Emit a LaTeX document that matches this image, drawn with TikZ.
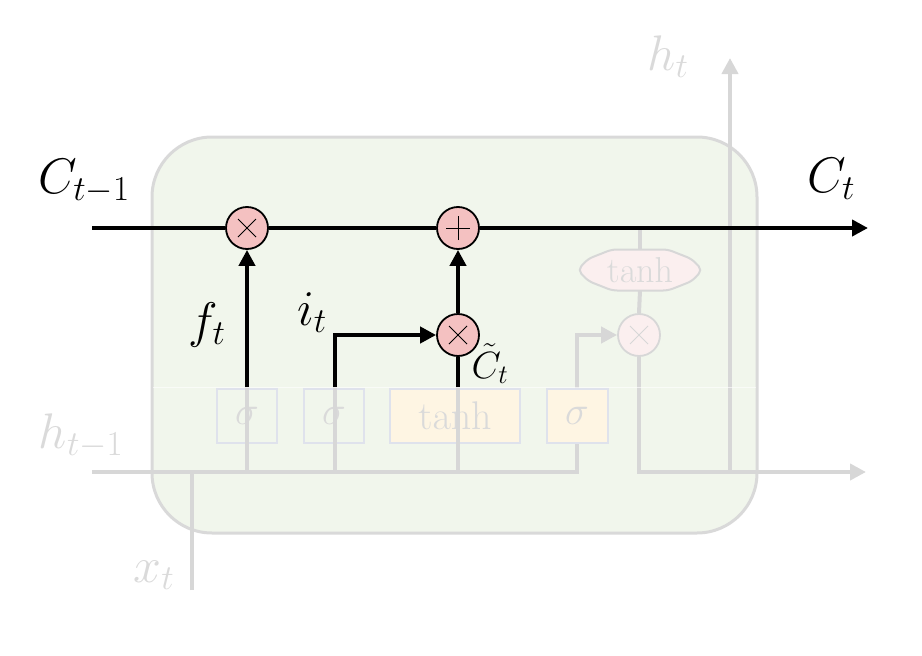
\RequirePackage{fix-cm}
\documentclass[tikz,border=0pt]{standalone}
\usetikzlibrary{arrows.meta,shapes.geometric}
\definecolor{cellfill}{HTML}{F1F6EC}
\definecolor{cellline}{HTML}{D9D9D9}
\definecolor{pinkc}{HTML}{F4C1C1}
\definecolor{fadepink}{HTML}{FBEFEF}
\definecolor{fadeline}{HTML}{D7D7D7}
\definecolor{fadetext}{HTML}{DADADA}
\definecolor{gateline}{HTML}{DFE2EC}
\definecolor{gatefill}{HTML}{FEF5E3}
\begin{document}
\begin{tikzpicture}[x=1pt,y=-1pt,
  cross/.style={path picture={
    \draw[line width=1pt,#1] ([shift={(-9pt,-9pt)}]path picture bounding box.center) -- ([shift={(9pt,9pt)}]path picture bounding box.center);
    \draw[line width=1pt,#1] ([shift={(-9pt,9pt)}]path picture bounding box.center) -- ([shift={(9pt,-9pt)}]path picture bounding box.center);}},
  plus/.style={path picture={
    \draw[line width=1pt] ([xshift=-12pt]path picture bounding box.center) -- ([xshift=12pt]path picture bounding box.center);
    \draw[line width=1pt] ([yshift=-12pt]path picture bounding box.center) -- ([yshift=12pt]path picture bounding box.center);}},
  opc/.style={circle, draw=black, fill=pinkc, minimum size=42pt, inner sep=0pt, line width=1.8pt},
  fadeopc/.style={circle, draw=fadeline, fill=fadepink, minimum size=42pt, inner sep=0pt, line width=1.8pt},
  bigtxt/.style={font=\fontsize{50}{60}\selectfont, inner sep=0pt, anchor=base},
  fadetxt/.style={bigtxt, text=fadetext},
  gateA/.style={draw=gateline, fill=cellfill, line width=2pt, minimum height=54pt, inner sep=0pt, text=fadetext, font=\fontsize{40}{48}\selectfont},
  gateB/.style={gateA, fill=gatefill},
  blk/.style={line width=4pt, black},
  gry/.style={line width=4pt, fadeline},
  tip/.style={-{Triangle[length=16pt,width=16pt]}},
]
\useasboundingbox (0,0) rectangle (922,656);

% cell
\node[draw=cellline, fill=cellfill, line width=3pt, rounded corners=60pt,
      minimum width=605pt, minimum height=396pt, inner sep=0pt] (cell) at (454.5,335) {};

% gates
\node[gateA, minimum width=60pt] (gf) at (247,416) {$\sigma$};
\node[gateA, minimum width=60pt] (gi) at (334,416) {$\sigma$};
\node[gateB, minimum width=130pt] (gc) at (455,416) {$\tanh$};
\node[gateB, minimum width=61pt] (go) at (577,416) {$\sigma$};

% faded output part
\node[minimum width=124pt, minimum height=41pt, inner sep=0pt] (th) at (640,270) {};
\draw[draw=fadeline, fill=fadepink, line width=2pt, rounded corners=5pt]
  (th.west) -- ++(10,-11) -- ++(24,-9.5) -- ++(56,0) -- ++(24,9.5) -- (th.east)
  -- ++(-10,11) -- ++(-24,9.5) -- ++(-56,0) -- ++(-24,-9.5) -- cycle;
\node[text=fadetext, font=\fontsize{36}{44}\selectfont, inner sep=0pt] (thl) at (th.center) {$\tanh$};
\node[fadeopc, cross=fadeline] (mo) at (639,335) {};

% coordinates
\coordinate (cin) at (92,228);
\coordinate (cout) at (868,228);
\coordinate (hin) at (92,472);
\coordinate (hend) at (866,472);
\coordinate (htop) at (730,58);
\coordinate (hjoin) at (730,472);
\coordinate (xbot) at (192,590);
\coordinate (xjoin) at (192,472);
\coordinate (fb) at (247,472);
\coordinate (fm) at (247,387);
\coordinate (ib) at (335,472);
\coordinate (im) at (335,387);
\coordinate (ic) at (335,335);
\coordinate (cb) at (458,472);
\coordinate (cm) at (458,387);
\coordinate (ob) at (577,472);
\coordinate (oc) at (577,335);
\coordinate (ctap) at (640,228);
\coordinate (mob) at (639,472);

% faded connectors
\draw[gry] (hin) -- (ob) -- (go.south);
\draw[gry] (xbot) -- (xjoin);
\draw[gry] (fb) -- (fm);
\draw[gry] (ib) -- (im);
\draw[gry] (cb) -- (cm);
\draw[gry, tip] (go.north) -- (oc) -- (mo.west);
\draw[gry] (ctap) -- (th.north);
\draw[gry] (th.south) -- (mo.north);
\draw[gry, tip] (mo.south) -- (mob) -- (hend);
\draw[gry, tip] (hjoin) -- (htop);

% faint overlay edge
\draw[white, opacity=0.6, line width=1pt] (153,387) -- (756,387);

% main operators
\node[opc, cross=black] (mf) at (247,228) {};
\node[opc, plus] (pc) at (458,228) {};
\node[opc, cross=black] (mi) at (458,335) {};

% black connectors
\draw[blk] (cin) -- (mf.west);
\draw[blk] (mf.east) -- (pc.west);
\draw[blk, tip] (pc.east) -- (cout);
\draw[blk, tip] (fm) -- (mf.south);
\draw[blk, tip] (im) -- (ic) -- (mi.west);
\draw[blk] (cm) -- (mi.south);
\draw[blk, tip] (mi.north) -- (pc.south);

% labels
\node[bigtxt] (lc0) at (84,193) {$C_{t-1}$};
\node[bigtxt] (lc1) at (831,192) {$C_t$};
\node[bigtxt] (lf) at (207,337) {$f_t$};
\node[bigtxt] (li) at (312,325) {$i_t$};
\node[bigtxt, font=\fontsize{38}{46}\selectfont] (lct) at (490,378) {$\tilde{C}_t$};
\node[fadetxt] (lht) at (668,70) {$h_t$};
\node[fadetxt] (lh0) at (81,448) {$h_{t-1}$};
\node[fadetxt] (lx) at (154,582) {$x_t$};
\end{tikzpicture}
\end{document}
